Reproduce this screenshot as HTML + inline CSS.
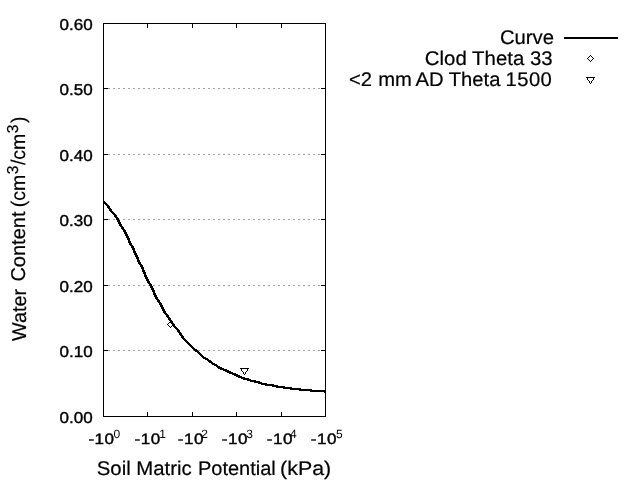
<!DOCTYPE html>
<html><head><meta charset="utf-8"><title>Water Retention Curve</title>
<style>html,body{margin:0;padding:0;background:#fff;overflow:hidden}svg{display:block}</style></head>
<body>
<svg width="640" height="480" viewBox="0 0 640 480">
<rect width="640" height="480" fill="#fff"/>
<g shape-rendering="crispEdges" stroke="#000" stroke-width="1" fill="none">
<line x1="103" y1="350.5" x2="326" y2="350.5" stroke="#a0a0a0" stroke-dasharray="2 3"/>
<line x1="103" y1="285.5" x2="326" y2="285.5" stroke="#a0a0a0" stroke-dasharray="2 3"/>
<line x1="103" y1="219.5" x2="326" y2="219.5" stroke="#a0a0a0" stroke-dasharray="2 3"/>
<line x1="103" y1="154.5" x2="326" y2="154.5" stroke="#a0a0a0" stroke-dasharray="2 3"/>
<line x1="103" y1="88.5" x2="326" y2="88.5" stroke="#a0a0a0" stroke-dasharray="2 3"/>
<line x1="103" y1="350.5" x2="108" y2="350.5"/>
<line x1="321" y1="350.5" x2="326" y2="350.5"/>
<line x1="103" y1="285.5" x2="108" y2="285.5"/>
<line x1="321" y1="285.5" x2="326" y2="285.5"/>
<line x1="103" y1="219.5" x2="108" y2="219.5"/>
<line x1="321" y1="219.5" x2="326" y2="219.5"/>
<line x1="103" y1="154.5" x2="108" y2="154.5"/>
<line x1="321" y1="154.5" x2="326" y2="154.5"/>
<line x1="103" y1="88.5" x2="108" y2="88.5"/>
<line x1="321" y1="88.5" x2="326" y2="88.5"/>
<line x1="147.5" y1="23" x2="147.5" y2="28"/>
<line x1="147.5" y1="412" x2="147.5" y2="417"/>
<line x1="192.5" y1="23" x2="192.5" y2="28"/>
<line x1="192.5" y1="412" x2="192.5" y2="417"/>
<line x1="236.5" y1="23" x2="236.5" y2="28"/>
<line x1="236.5" y1="412" x2="236.5" y2="417"/>
<line x1="281.5" y1="23" x2="281.5" y2="28"/>
<line x1="281.5" y1="412" x2="281.5" y2="417"/>
<rect x="103.5" y="23.5" width="222" height="393"/>
</g>
<polyline points="104,202 106,204 108,206 110,209 112,212 115,215 117,218 119,222 121,226 124,230 126,234 128,238 130,243 133,248 135,253 137,257 139,262 142,267 144,272 146,277 148,281 151,286 153,290 155,295 157,299 160,303 162,307 164,311 166,314 169,318 171,321 173,324 175,327 178,330 180,333 182,336 184,339 186,341 189,344 191,346 193,348 195,350 198,352 200,354 202,356 204,358 207,359 209,361 211,362 213,364 216,365 218,367 220,368 222,369 225,370 227,371 229,372 231,373 234,374 236,375 238,376 240,377 243,378 245,379 247,379 249,380 252,381 254,381 256,382 258,382 260,383 263,384 265,384 267,385 269,385 272,385 274,386 276,386 278,387 281,387 283,387 285,388 287,388 290,388 292,389 294,389 296,389 299,389 301,390 303,390 305,390 308,390 310,390 312,391 314,391 317,391 319,391 321,391 323,391 326,392" fill="none" stroke="#000" stroke-width="2.5" stroke-linejoin="round" shape-rendering="crispEdges"/>
<rect x="564" y="37" width="54" height="2" fill="#000" shape-rendering="crispEdges"/>
<g fill="none" stroke="#000" stroke-width="1" shape-rendering="crispEdges">
<path d="M170.5 321.5 L173.5 324.5 L170.5 327.5 L167.5 324.5 Z"/>
<path d="M590.5 55.5 L593.5 58.5 L590.5 61.5 L587.5 58.5 Z"/>
<path d="M240.5 368.5 L248.5 368.5 L244.5 374.5 Z"/>
<path d="M586.5 77.5 L594.5 77.5 L590.5 83.5 Z"/>
</g>
<g font-family="'Liberation Sans', Arial, sans-serif" fill="#000" text-rendering="geometricPrecision" stroke="#000" stroke-width="0.2">
<text transform="translate(92.7,423) scale(1.085,1)" font-size="15.7" text-anchor="end" stroke="#000" stroke-width="0.4">0.00</text>
<text transform="translate(92.7,357) scale(1.085,1)" font-size="15.7" text-anchor="end" stroke="#000" stroke-width="0.4">0.10</text>
<text transform="translate(92.7,292) scale(1.085,1)" font-size="15.7" text-anchor="end" stroke="#000" stroke-width="0.4">0.20</text>
<text transform="translate(92.7,226) scale(1.085,1)" font-size="15.7" text-anchor="end" stroke="#000" stroke-width="0.4">0.30</text>
<text transform="translate(92.7,161) scale(1.085,1)" font-size="15.7" text-anchor="end" stroke="#000" stroke-width="0.4">0.40</text>
<text transform="translate(92.7,95) scale(1.085,1)" font-size="15.7" text-anchor="end" stroke="#000" stroke-width="0.4">0.50</text>
<text transform="translate(92.7,30) scale(1.085,1)" font-size="15.7" text-anchor="end" stroke="#000" stroke-width="0.4">0.60</text>
<text transform="translate(88.4,444) scale(1.13,1)" font-size="15.1" stroke="#000" stroke-width="0.4" letter-spacing="0.45">-10</text>
<text x="113.6" y="437.6" font-size="12" stroke="none">0</text>
<text transform="translate(134.5,444) scale(1.13,1)" font-size="15.1" stroke="#000" stroke-width="0.4" letter-spacing="0.45">-10</text>
<text x="159.3" y="437.6" font-size="12" stroke="none">1</text>
<text transform="translate(177.7,444) scale(1.13,1)" font-size="15.1" stroke="#000" stroke-width="0.4" letter-spacing="0.45">-10</text>
<text x="201.2" y="437.6" font-size="12" stroke="none">2</text>
<text transform="translate(221.7,444) scale(1.13,1)" font-size="15.1" stroke="#000" stroke-width="0.4" letter-spacing="0.45">-10</text>
<text x="246.2" y="437.6" font-size="12" stroke="none">3</text>
<text transform="translate(266.7,444) scale(1.13,1)" font-size="15.1" stroke="#000" stroke-width="0.4" letter-spacing="0.45">-10</text>
<text x="290.0" y="437.6" font-size="12" stroke="none">4</text>
<text transform="translate(310.7,444) scale(1.13,1)" font-size="15.1" stroke="#000" stroke-width="0.4" letter-spacing="0.45">-10</text>
<text x="336.0" y="437.6" font-size="12" stroke="none">5</text>
<text transform="translate(96.8,475) scale(1.028,1)" font-size="19.8">Soil Matric</text>
<text transform="translate(197.9,475) scale(1.012,1)" font-size="19.8">Potential</text>
<text transform="translate(280.1,475) scale(1.08,1)" font-size="19.8">(kPa)</text>
<text transform="translate(26,341) rotate(-90) scale(1,1.01)" font-size="19.8">Water</text>
<text transform="translate(25,281.6) rotate(-90) scale(1.012,1.01)" font-size="19.8">Content</text>
<text transform="translate(25,207.2) rotate(-90) scale(0.984,1)" font-size="19.8">(cm<tspan font-size="15.8" dy="-7" dx="0.5">3</tspan><tspan dy="7" dx="0.5">/cm</tspan><tspan font-size="15.8" dy="-7" dx="0.5">3</tspan><tspan dy="7" dx="1.7">)</tspan></text>
<text transform="translate(554,43.7) scale(1.025,1)" font-size="19.8" text-anchor="end">Curve</text>
<text transform="translate(552.6,65) scale(1.031,1)" font-size="19.8" text-anchor="end">Clod Theta 33</text>
<text transform="translate(349.0,86) scale(1.022,1)" font-size="19.8" letter-spacing="0">&lt;2</text>
<text transform="translate(378.2,86) scale(1.022,1)" font-size="19.8" letter-spacing="0">mm</text>
<text transform="translate(415.5,86) scale(1.022,1)" font-size="19.8" letter-spacing="0">AD</text>
<text transform="translate(448.7,86) scale(1.022,1)" font-size="19.8" letter-spacing="0">Theta</text>
<text transform="translate(505.6,86) scale(1.022,1)" font-size="19.8" letter-spacing="0.4">1500</text>
</g>
</svg>
</body></html>
